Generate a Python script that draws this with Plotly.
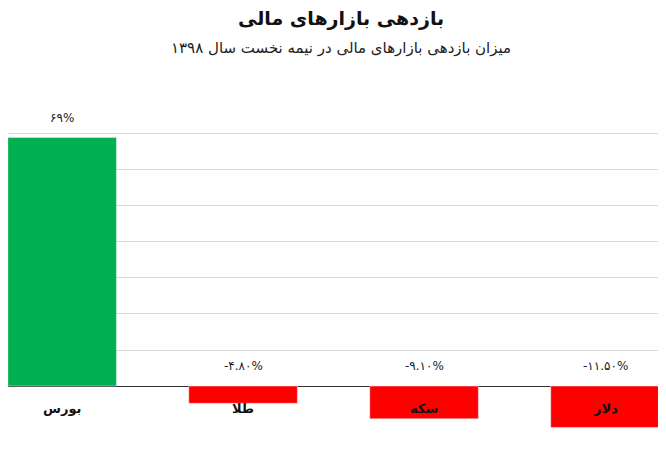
import plotly.graph_objects as go

categories = ["بورس", "طلا", "سکه", "دلار"]
values = [69, -4.8, -9.1, -11.5]
value_labels = ["۶۹%", "-۴.۸۰%", "-۹.۱۰%", "-۱۱.۵۰%"]
colors = ["#00b050" if v >= 0 else "#ff0000" for v in values]
grid_vals = [10, 20, 30, 40, 50, 60, 70]

x = list(range(len(categories)))
fig = go.Figure(go.Bar(x=x, y=values, marker_color=colors, width=0.6))

ann = []
for i, (c, v, t) in enumerate(zip(categories, values, value_labels)):
    ann.append(dict(x=i, y=max(v, 0), text=t, showarrow=False, yshift=20,
                    font=dict(size=12, color="#222", family="DejaVu Sans")))
    ann.append(dict(x=i, y=0, text="<b>" + c + "</b>", showarrow=False, yshift=-22,
                    font=dict(size=13, color="#111", family="DejaVu Sans")))
fig.update_layout(
    width=666, height=454, margin=dict(l=0, r=0, t=100, b=0),
    plot_bgcolor="white", paper_bgcolor="white", showlegend=False,
    xaxis=dict(range=[-0.299, 3.381], showticklabels=False, showgrid=False, zeroline=False),
    yaxis=dict(range=[-21.1, 77.2], tickvals=grid_vals, showticklabels=False,
               gridcolor="#d9d9d9", zeroline=True, zerolinecolor="#333", zerolinewidth=1),
    annotations=ann + [
        dict(xref="paper", yref="paper", x=0.5, y=1, yshift=103, text="<b>بازدهی بازارهای مالی</b>",
             showarrow=False, font=dict(size=19, color="#111", family="DejaVu Sans")),
        dict(xref="paper", yref="paper", x=0.5, y=1, yshift=71, text="میزان بازدهی بازارهای مالی در نیمه نخست سال ۱۳۹۸",
             showarrow=False, font=dict(size=15, color="#222", family="DejaVu Sans")),
    ],
)
fig.write_html("out.html")
